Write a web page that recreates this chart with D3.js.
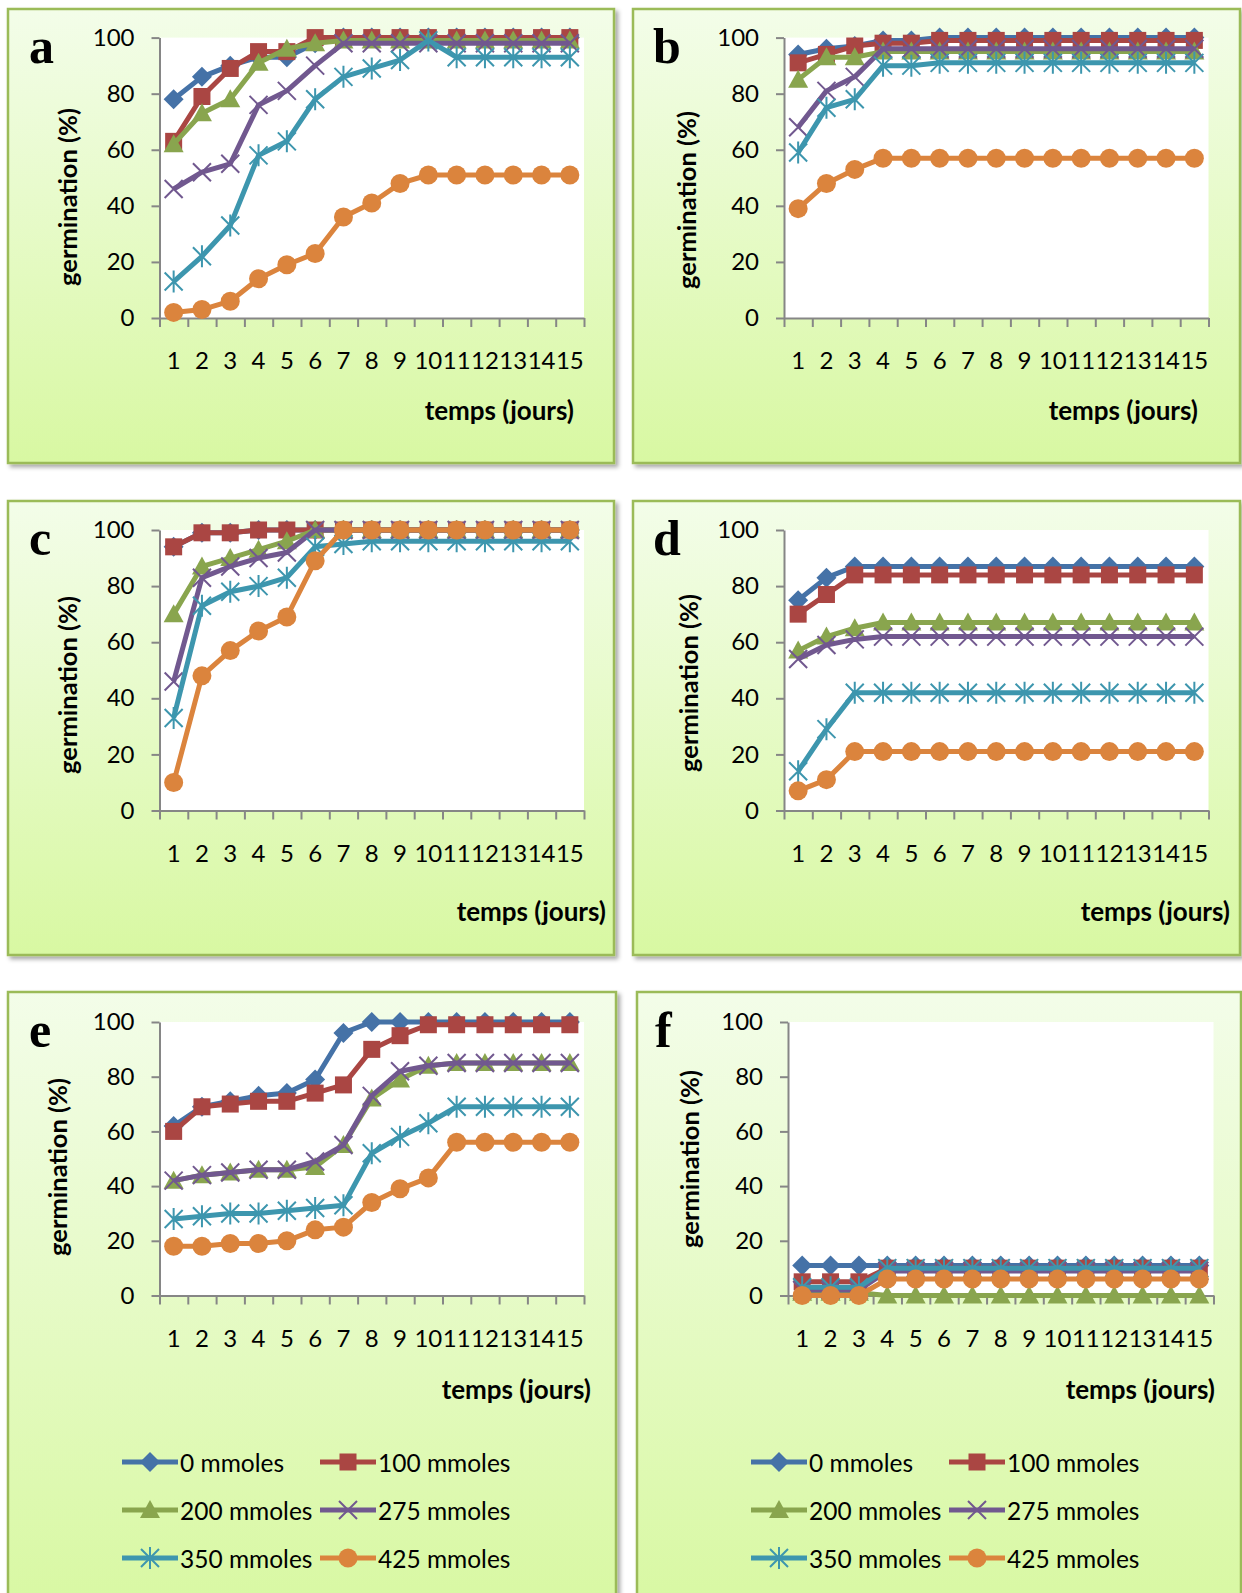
<!DOCTYPE html>
<html lang="fr">
<head>
<meta charset="utf-8">
<title>Germination (%) - panels a to f</title>
<script src="https://d3js.org/d3.v7.min.js"></script>
<style>
	body { margin: 0; background: #fff; }
	svg { display: block; }
	text { font-family: Lato, "Open Sans", sans-serif; }
	text.letter { font-family: "Liberation Serif", "DejaVu Serif", serif; }
</style>
</head>
<body>
<script>
	// categories and tick labels
	var days = [1, 2, 3, 4, 5, 6, 7, 8, 9, 10, 11, 12, 13, 14, 15];
	var yTicks = [0, 20, 40, 60, 80, 100];
	var seriesNames = ["0 mmoles", "100 mmoles", "200 mmoles", "275 mmoles", "350 mmoles", "425 mmoles"];
	var seriesColors = ["#4572A7", "#AA4643", "#89A54E", "#71588F", "#3D96AE", "#DB843D"];
	var seriesMarkers = ["diamond", "square", "triangle", "cross", "star", "circle"];

	// germination (%) per day, one row per concentration (0, 100, 200, 275, 350, 425 mmoles)
	var panelA = [
		[78, 86, 90, 93, 93, 98, 100, 100, 100, 100, 100, 100, 100, 100, 100],
		[63, 79, 89, 95, 95, 100, 100, 100, 100, 100, 100, 100, 100, 100, 100],
		[62, 73, 78, 91, 96, 98, 99, 99, 99, 99, 99, 99, 99, 99, 99],
		[46, 52, 55, 76, 81, 90, 98, 98, 98, 98, 98, 98, 98, 98, 98],
		[13, 22, 33, 58, 63, 78, 86, 89, 92, 99, 93, 93, 93, 93, 93],
		[2, 3, 6, 14, 19, 23, 36, 41, 48, 51, 51, 51, 51, 51, 51]
	];
	var panelB = [
		[94, 96, 97, 99, 99, 100, 100, 100, 100, 100, 100, 100, 100, 100, 100],
		[91, 94, 97, 98, 98, 99, 99, 99, 99, 99, 99, 99, 99, 99, 99],
		[85, 93, 93, 95, 95, 95, 95, 95, 95, 95, 95, 95, 95, 95, 95],
		[68, 81, 86, 96, 96, 96, 96, 96, 96, 96, 96, 96, 96, 96, 96],
		[59, 75, 78, 90, 90, 91, 91, 91, 91, 91, 91, 91, 91, 91, 91],
		[39, 48, 53, 57, 57, 57, 57, 57, 57, 57, 57, 57, 57, 57, 57]
	];
	var panelC = [
		[94, 99, 99, 100, 100, 100, 100, 100, 100, 100, 100, 100, 100, 100, 100],
		[94, 99, 99, 100, 100, 100, 100, 100, 100, 100, 100, 100, 100, 100, 100],
		[70, 87, 90, 93, 96, 100, 100, 100, 100, 100, 100, 100, 100, 100, 100],
		[46, 83, 87, 90, 92, 100, 100, 100, 100, 100, 100, 100, 100, 100, 100],
		[33, 73, 78, 80, 83, 94, 95, 96, 96, 96, 96, 96, 96, 96, 96],
		[10, 48, 57, 64, 69, 89, 100, 100, 100, 100, 100, 100, 100, 100, 100]
	];
	var panelD = [
		[75, 83, 87, 87, 87, 87, 87, 87, 87, 87, 87, 87, 87, 87, 87],
		[70, 77, 84, 84, 84, 84, 84, 84, 84, 84, 84, 84, 84, 84, 84],
		[57, 62, 65, 67, 67, 67, 67, 67, 67, 67, 67, 67, 67, 67, 67],
		[54, 59, 61, 62, 62, 62, 62, 62, 62, 62, 62, 62, 62, 62, 62],
		[14, 29, 42, 42, 42, 42, 42, 42, 42, 42, 42, 42, 42, 42, 42],
		[7, 11, 21, 21, 21, 21, 21, 21, 21, 21, 21, 21, 21, 21, 21]
	];
	var panelE = [
		[62, 69, 71, 73, 74, 79, 96, 100, 100, 100, 100, 100, 100, 100, 100],
		[60, 69, 70, 71, 71, 74, 77, 90, 95, 99, 99, 99, 99, 99, 99],
		[42, 44, 45, 46, 46, 47, 55, 72, 79, 84, 85, 85, 85, 85, 85],
		[42, 44, 45, 46, 46, 49, 55, 73, 82, 84, 85, 85, 85, 85, 85],
		[28, 29, 30, 30, 31, 32, 33, 52, 58, 63, 69, 69, 69, 69, 69],
		[18, 18, 19, 19, 20, 24, 25, 34, 39, 43, 56, 56, 56, 56, 56]
	];
	var panelF = [
		[11, 11, 11, 11, 11, 11, 11, 11, 11, 11, 11, 11, 11, 11, 11],
		[5, 5, 5, 10, 10, 10, 10, 10, 10, 10, 10, 10, 10, 10, 10],
		[1, 1, 1, 0, 0, 0, 0, 0, 0, 0, 0, 0, 0, 0, 0],
		[2, 2, 2, 9, 9, 9, 9, 9, 9, 9, 9, 9, 9, 9, 9],
		[3, 3, 3, 10, 10, 10, 10, 10, 10, 10, 10, 10, 10, 10, 10],
		[0, 0, 0, 6, 6, 6, 6, 6, 6, 6, 6, 6, 6, 6, 6]
	];

	// layout of the six framed charts (page pixels)
	var panels = [
		{ letter: "a", data: panelA, frame: [8, 9, 606, 454],   plot: [159.5, 37.6, 584, 318],    yTitle: [67, 197],   xTitle: [574, 420],   letterAt: [29, 63],    legend: null },
		{ letter: "b", data: panelB, frame: [633, 9, 607, 454], plot: [784, 37.6, 1208.5, 318],   yTitle: [686, 200],  xTitle: [1198, 420],  letterAt: [653, 63],   legend: null },
		{ letter: "c", data: panelC, frame: [8, 501, 606, 454], plot: [159.5, 530, 584, 810.5],   yTitle: [67, 685],   xTitle: [606, 921],   letterAt: [29, 555],   legend: null },
		{ letter: "d", data: panelD, frame: [633, 501, 607, 454], plot: [784, 530, 1208.5, 810.5], yTitle: [688, 683],  xTitle: [1230, 921],  letterAt: [653, 555],  legend: null },
		{ letter: "e", data: panelE, frame: [8, 992, 608, 620], plot: [159.5, 1022, 584, 1295.5], yTitle: [57, 1167],  xTitle: [591, 1399],  letterAt: [29, 1047],  legend: [122, 320] },
		{ letter: "f", data: panelF, frame: [637, 992, 604, 620], plot: [788, 1022, 1213.5, 1295.5], yTitle: [689, 1159], xTitle: [1215, 1399], letterAt: [655, 1047], legend: [751, 949] }
	];
	var legendRows = [1462, 1510, 1558];

	var w = 1242, h = 1593;
	var svg = d3.select("body").append("svg").attr("width", w).attr("height", h);

	var defs = svg.append("defs");
	var grad = defs.append("linearGradient").attr("id", "bg").attr("x1", 0).attr("y1", 0).attr("x2", 0).attr("y2", 1);
	grad.append("stop").attr("offset", "0%").attr("stop-color", "#f3fde9");
	grad.append("stop").attr("offset", "100%").attr("stop-color", "#d8f8a2");
	var shadow = defs.append("filter").attr("id", "shadow").attr("x", "-5%").attr("y", "-5%").attr("width", "115%").attr("height", "115%");
	shadow.append("feDropShadow").attr("dx", 3).attr("dy", 3).attr("stdDeviation", 2)
		.attr("flood-color", "#000").attr("flood-opacity", 0.35);

	// draw one marker of a series at (0,0) inside g
	function drawMarker(g, type, color) {
		if (type === "diamond") {
			g.append("path").attr("d", "M0,-10L10,0L0,10L-10,0Z").attr("fill", color);
		} else if (type === "square") {
			g.append("rect").attr("x", -8.5).attr("y", -8.5).attr("width", 17).attr("height", 17).attr("fill", color);
		} else if (type === "triangle") {
			g.append("path").attr("d", "M0,-10L10,8L-10,8Z").attr("fill", color);
		} else if (type === "cross") {
			g.append("path").attr("d", "M-9,-9L9,9M-9,9L9,-9").attr("stroke", color).attr("stroke-width", 2);
		} else if (type === "star") {
			g.append("path").attr("d", "M-9,-9L9,9M-9,9L9,-9M0,-11L0,11").attr("stroke", color).attr("stroke-width", 2);
		} else {
			g.append("circle").attr("r", 9.5).attr("fill", color);
		}
	}

	panels.forEach(function(p) {
		var g = svg.append("g");

		// frame with light green gradient
		g.append("rect")
			.attr("x", p.frame[0]).attr("y", p.frame[1])
			.attr("width", p.frame[2]).attr("height", p.frame[3])
			.attr("fill", "url(#bg)")
			.attr("stroke", "#9bbb59").attr("stroke-width", 2.5)
			.attr("filter", "url(#shadow)");

		var x0 = p.plot[0], y0 = p.plot[1], x1 = p.plot[2], y1 = p.plot[3];
		var x = d3.scaleBand().domain(days).range([x0, x1]);
		var xEdge = d3.scaleLinear().domain([0, days.length]).range([x0, x1]);
		var y = d3.scaleLinear().domain([0, 100]).range([y1, y0]);

		// white plot area
		g.append("rect").attr("x", x0).attr("y", y0).attr("width", x1 - x0).attr("height", y1 - y0).attr("fill", "#fff");

		// y axis
		var ya = g.append("g").attr("transform", "translate(" + x0 + ",0)")
			.call(d3.axisLeft(y).tickValues(yTicks).tickSize(8).tickSizeOuter(0).tickPadding(17));
		// x axis: tick marks between days, labels under each day
		var xa = g.append("g").attr("transform", "translate(0," + y1 + ")")
			.call(d3.axisBottom(xEdge).tickValues(d3.range(days.length + 1)).tickSize(9).tickSizeOuter(0).tickFormat(""));
		var xl = g.append("g").attr("transform", "translate(0," + y1 + ")")
			.call(d3.axisBottom(x).tickSize(0).tickPadding(34));
		xl.select(".domain").remove();

		[ya, xa].forEach(function(a) {
			a.select(".domain").attr("stroke", "#868686").attr("stroke-width", 2);
			a.selectAll(".tick line").attr("stroke", "#868686").attr("stroke-width", 2);
		});
		[ya, xl].forEach(function(a) {
			a.selectAll("text").attr("font-size", 24).attr("fill", "#000");
		});

		// series lines then markers, in series order
		var line = d3.line()
			.x(function(d, i) { return x(days[i]) + x.bandwidth() / 2; })
			.y(function(d) { return y(d); });

		p.data.forEach(function(vals, s) {
			var sg = g.append("g");
			sg.append("path").datum(vals)
				.attr("d", line)
				.attr("fill", "none")
				.attr("stroke", seriesColors[s])
				.attr("stroke-width", 5)
				.attr("stroke-linejoin", "round");
			vals.forEach(function(v, i) {
				var m = sg.append("g").attr("transform", "translate(" + (x(days[i]) + x.bandwidth() / 2) + "," + y(v) + ")");
				drawMarker(m, seriesMarkers[s], seriesColors[s]);
			});
		});

		// titles
		g.append("text")
			.attr("transform", "translate(" + p.yTitle[0] + "," + p.yTitle[1] + ") rotate(-90)")
			.attr("text-anchor", "middle")
			.attr("dominant-baseline", "central")
			.attr("font-weight", "bold")
			.attr("font-size", 25.5)
			.text("germination (%)");
		g.append("text")
			.attr("x", p.xTitle[0]).attr("y", p.xTitle[1])
			.attr("text-anchor", "end")
			.attr("font-weight", "bold")
			.attr("font-size", 26)
			.text("temps (jours)");
		g.append("text")
			.attr("class", "letter")
			.attr("x", p.letterAt[0]).attr("y", p.letterAt[1])
			.attr("font-weight", "bold")
			.attr("font-size", 50)
			.text(p.letter);

		// legend (bottom charts only)
		if (p.legend) {
			seriesNames.forEach(function(name, s) {
				var lx = p.legend[s % 2], ly = legendRows[Math.floor(s / 2)];
				var lg = g.append("g");
				lg.append("line").attr("x1", lx).attr("x2", lx + 56).attr("y1", ly).attr("y2", ly)
					.attr("stroke", seriesColors[s]).attr("stroke-width", 5);
				var m = lg.append("g").attr("transform", "translate(" + (lx + 28) + "," + ly + ")");
				drawMarker(m, seriesMarkers[s], seriesColors[s]);
				lg.append("text").attr("x", lx + 58).attr("y", ly)
					.attr("dominant-baseline", "central")
					.attr("font-size", 24.5)
					.text(name);
			});
		}
	});
</script>
</body>
</html>
